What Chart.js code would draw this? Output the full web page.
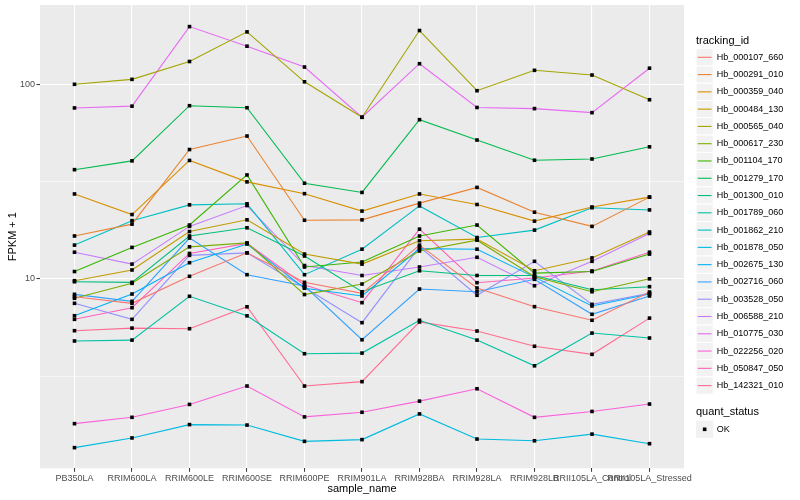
<!DOCTYPE html>
<html>
<head>
<meta charset="utf-8">
<title>FPKM by sample</title>
<script src="https://cdn.jsdelivr.net/npm/chart.js@4.4.0/dist/chart.umd.min.js"></script>
<style>
  html, body { margin: 0; padding: 0; background: #ffffff; }
  #wrap { width: 800px; height: 500px; position: relative; }
</style>
</head>
<body>
<div id="wrap"><canvas id="fpkmChart"></canvas></div>
<script>
// x categories
const sampleNames = ['PB350LA', 'RRIM600LA', 'RRIM600LE', 'RRIM600SE', 'RRIM600PE', 'RRIM901LA',
    'RRIM928BA', 'RRIM928LA', 'RRIM928LB', 'RRII105LA_Control', 'RRII105LA_Stressed'];

const trackingIds = ['Hb_000107_660', 'Hb_000291_010', 'Hb_000359_040', 'Hb_000484_130', 'Hb_000565_040',
    'Hb_000617_230', 'Hb_001104_170', 'Hb_001279_170', 'Hb_001300_010', 'Hb_001789_060',
    'Hb_001862_210', 'Hb_001878_050', 'Hb_002675_130', 'Hb_002716_060', 'Hb_003528_050',
    'Hb_006588_210', 'Hb_010775_030', 'Hb_022256_020', 'Hb_050847_050', 'Hb_142321_010'];

// FPKM + 1, one array per gene, in sampleNames order
const hb000107_660 = [8.09, 7.48, 10.3, 13.6, 9.59, 8.42, 14.9, 8.97, 7.19, 6.12, 8.55];
const hb000291_010 = [16.6, 19.1, 46.2, 54.2, 20.0, 20.1, 24.5, 29.5, 22.0, 18.6, 26.3];
const hb000359_040 = [27.3, 21.4, 40.6, 31.5, 27.4, 22.3, 27.3, 24.1, 19.8, 23.4, 26.3];
const hb000484_130 = [9.78, 11.1, 17.5, 20.1, 13.4, 11.9, 15.7, 16.0, 11.0, 12.8, 17.4];
const hb000565_040 = [100, 106, 131, 186, 103, 67.7, 189, 92.7, 118, 111.6, 83.3];
const hb000617_230 = [7.94, 9.48, 14.6, 15.3, 8.30, 9.40, 13.9, 15.8, 10.25, 8.58, 10.0];
const hb001104_170 = [10.9, 14.5, 18.9, 34.2, 11.5, 12.2, 16.6, 18.9, 10.7, 10.9, 13.4];
const hb001279_170 = [36.4, 40.4, 77.6, 75.8, 31.0, 27.8, 65.8, 51.7, 40.7, 41.3, 47.7];
const hb001300_010 = [9.66, 9.59, 16.6, 18.3, 13.1, 8.58, 11.0, 10.4, 10.4, 8.79, 9.11];
const hb001789_060 = [4.79, 4.84, 8.13, 6.45, 4.12, 4.15, 6.12, 4.84, 3.57, 5.26, 4.96];
const hb001862_210 = [14.9, 19.9, 24.0, 24.3, 10.5, 14.2, 23.7, 16.3, 17.8, 23.2, 22.6];
const hb001878_050 = [1.355, 1.52, 1.78, 1.77, 1.46, 1.49, 2.02, 1.50, 1.47, 1.59, 1.42];
const hb002675_130 = [6.46, 8.35, 12.1, 15.1, 8.94, 8.16, 14.3, 14.2, 10.2, 7.25, 8.35];
const hb002716_060 = [8.32, 7.66, 16.2, 10.5, 9.18, 4.86, 8.86, 8.58, 9.94, 6.57, 8.16];
const hb003528_050 = [7.48, 6.19, 13.2, 13.6, 9.02, 5.95, 14.6, 8.23, 12.3, 7.39, 8.42];
const hb006588_210 = [13.7, 11.9, 18.6, 23.8, 11.7, 10.4, 11.5, 12.9, 9.21, 12.3, 17.1];
const hb010775_030 = [75.6, 77.2, 198, 157, 122.7, 67.7, 127.6, 76, 75, 71.5, 121];
const hb022256_020 = [1.80, 1.94, 2.26, 2.81, 1.95, 2.06, 2.35, 2.72, 1.94, 2.08, 2.27];
const hb050847_050 = [6.19, 7.10, 13.5, 15.2, 9.29, 7.54, 18.0, 9.55, 10.1, 10.97, 13.7];
const hb142321_010 = [5.41, 5.58, 5.54, 7.18, 2.81, 2.96, 6.0, 5.39, 4.50, 4.09, 6.28];

const seriesValues = [hb000107_660, hb000291_010, hb000359_040, hb000484_130, hb000565_040,
    hb000617_230, hb001104_170, hb001279_170, hb001300_010, hb001789_060,
    hb001862_210, hb001878_050, hb002675_130, hb002716_060, hb003528_050,
    hb006588_210, hb010775_030, hb022256_020, hb050847_050, hb142321_010];

// y breaks: labelled majors and the unlabelled minors between them
const majorBreaks = [10, 100];
const minorBreaks = [3.1623, 31.623];

// ggplot default hue palette for 20 levels
const trackingColors = ['#F8766D', '#EA8331', '#D89000', '#C09B00', '#A3A500', '#7CAE00', '#39B600',
    '#00BB4E', '#00BF7D', '#00C1A3', '#00BFC4', '#00BAE0', '#00B0F6', '#35A2FF', '#9590FF',
    '#C77CFF', '#E76BF3', '#FA62DB', '#FF62BC', '#FF6C91'];

const FONT = '"Liberation Sans", Arial, Helvetica, sans-serif';

const datasets = trackingIds.map((id, i) => ({
    label: id,
    data: seriesValues[i].map((v, j) => ({ x: j, y: v })),
    borderColor: trackingColors[i],
    backgroundColor: trackingColors[i],
    borderWidth: 1.1,
    pointRadius: 0,
    tension: 0,
    fill: false,
}));

// grey panel behind everything
const panelBackground = {
    id: 'panelBackground',
    beforeDraw(chart) {
        const { ctx, chartArea: a } = chart;
        ctx.save();
        ctx.fillStyle = '#ffffff';
        ctx.fillRect(0, 0, chart.width, chart.height);
        ctx.fillStyle = '#EBEBEB';
        ctx.fillRect(a.left, a.top, a.right - a.left, a.bottom - a.top);
        ctx.restore();
    }
};

// points go on top of every line, like geom_point after geom_line
const pointsOnTop = {
    id: 'pointsOnTop',
    afterDatasetsDraw(chart) {
        const ctx = chart.ctx;
        ctx.save();
        ctx.fillStyle = '#000000';
        chart.data.datasets.forEach((ds, i) => {
            chart.getDatasetMeta(i).data.forEach((pt) => {
                ctx.fillRect(pt.x - 1.8, pt.y - 1.8, 3.6, 3.6);
            });
        });
        ctx.restore();
    }
};

// ggplot-like legend on the right
const sideLegend = {
    id: 'sideLegend',
    afterDraw(chart) {
        const ctx = chart.ctx;
        const x0 = 696, keySize = 17.28, labelX = 716.7;
        ctx.save();
        ctx.textBaseline = 'middle';
        ctx.textAlign = 'left';
        ctx.fillStyle = '#000000';
        ctx.font = '11px ' + FONT;
        ctx.fillText('tracking_id', x0, 40.7);
        chart.data.datasets.forEach((ds, i) => {
            const cy = 57.3 + i * keySize;
            ctx.fillStyle = '#F2F2F2';
            ctx.fillRect(x0, cy - keySize / 2, keySize, keySize);
            ctx.strokeStyle = '#ffffff';
            ctx.lineWidth = 1;
            ctx.strokeRect(x0, cy - keySize / 2, keySize, keySize);
            ctx.strokeStyle = ds.borderColor;
            ctx.lineWidth = 1.1;
            ctx.beginPath();
            ctx.moveTo(x0 + 1.7, cy);
            ctx.lineTo(x0 + keySize - 1.7, cy);
            ctx.stroke();
            ctx.fillStyle = '#000000';
            ctx.font = '9px ' + FONT;
            ctx.fillText(ds.label, labelX, cy);
        });
        ctx.font = '11px ' + FONT;
        ctx.fillText('quant_status', x0, 412.3);
        const qy = 429.3;
        ctx.fillStyle = '#F2F2F2';
        ctx.fillRect(x0, qy - keySize / 2, keySize, keySize);
        ctx.fillStyle = '#000000';
        ctx.fillRect(x0 + keySize / 2 - 1.8, qy - 1.8, 3.6, 3.6);
        ctx.font = '9px ' + FONT;
        ctx.fillText('OK', labelX, qy);
        ctx.restore();
    }
};

const ctx = document.getElementById('fpkmChart').getContext('2d');
const fpkmChart = new Chart(ctx, {
    type: 'line',
    data: { datasets: datasets },
    plugins: [panelBackground, pointsOnTop, sideLegend],
    options: {
        responsive: true,
        maintainAspectRatio: false,
        animation: false,
        layout: { padding: { left: 0, right: 116, top: 5, bottom: 0 } },
        plugins: {
            legend: { display: false },
            tooltip: { enabled: false },
        },
        scales: {
            x: {
                type: 'linear',
                min: -0.6,
                max: sampleNames.length - 0.4,
                afterBuildTicks: (axis) => {
                    axis.ticks = sampleNames.map((name, i) => ({ value: i }));
                },
                afterFit: (axis) => {
                    axis.height = 31.7;
                    axis.paddingLeft = 0;
                    axis.paddingRight = 0;
                },
                border: { display: false },
                grid: {
                    color: '#ffffff',
                    lineWidth: 1.1,
                    drawTicks: true,
                    tickLength: 3.5,
                    tickColor: '#333333',
                    tickWidth: 1,
                },
                ticks: {
                    autoSkip: false,
                    maxRotation: 0,
                    minRotation: 0,
                    padding: 1,
                    color: '#4D4D4D',
                    font: { family: FONT, size: 9 },
                    callback: (value) => sampleNames[value],
                },
                title: {
                    display: true,
                    text: 'sample_name',
                    color: '#000000',
                    font: { family: FONT, size: 11 },
                    padding: { top: 0, bottom: 4.7 },
                },
            },
            y: {
                type: 'logarithmic',
                min: 1.061,
                max: 255.7,
                afterBuildTicks: (axis) => {
                    axis.ticks = [minorBreaks[0], majorBreaks[0], minorBreaks[1], majorBreaks[1]]
                        .map((v) => ({ value: v }));
                },
                afterFit: (axis) => {
                    axis.width = 40;
                    axis.paddingTop = 0;
                    axis.paddingBottom = 0;
                },
                border: { display: false },
                grid: {
                    color: '#ffffff',
                    lineWidth: (c) => (majorBreaks.includes(c.tick && c.tick.value) ? 1.1 : 0.55),
                    drawTicks: true,
                    tickLength: 3.5,
                    tickColor: (c) => (majorBreaks.includes(c.tick && c.tick.value) ? '#333333' : 'rgba(0,0,0,0)'),
                    tickWidth: 1,
                },
                ticks: {
                    autoSkip: false,
                    padding: 1.5,
                    color: '#4D4D4D',
                    font: { family: FONT, size: 9 },
                    callback: (value) => (majorBreaks.includes(value) ? String(value) : ''),
                },
                title: {
                    display: true,
                    text: 'FPKM + 1',
                    color: '#000000',
                    font: { family: FONT, size: 11 },
                    padding: { top: 6, bottom: 0 },
                },
            },
        },
    },
});
</script>
</body>
</html>
